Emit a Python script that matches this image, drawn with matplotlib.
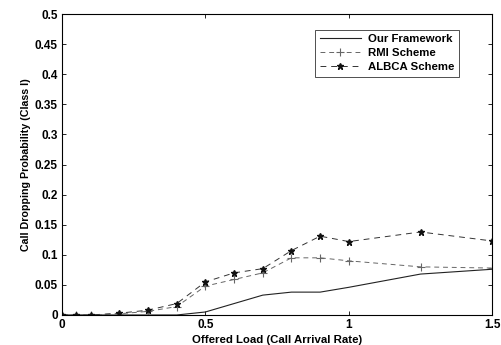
import numpy as np
import matplotlib.pyplot as plt

# offered load (call arrival rate)
load = [0, 0.05, 0.1, 0.2, 0.3, 0.4, 0.5, 0.6, 0.7, 0.8, 0.9, 1.0, 1.25, 1.5]

# call dropping probability, class I
framework = [0, 0, 0, 0, 0, 0.0, 0.005, 0.019, 0.033, 0.038, 0.038, 0.046, 0.068, 0.076]
rmi = [0, 0, 0, 0.002, 0.006, 0.014, 0.048, 0.059, 0.070, 0.095, 0.095, 0.090, 0.080, 0.078]
albca = [0, 0, 0, 0.003, 0.008, 0.019, 0.055, 0.070, 0.077, 0.107, 0.131, 0.122, 0.138, 0.123]

yticks = [0, 0.05, 0.1, 0.15, 0.2, 0.25, 0.3, 0.35, 0.4, 0.45, 0.5]
ytick_labels = ['0', '0.05', '0.1', '0.15', '0.2', '0.25', '0.3', '0.35', '0.4', '0.45', '0.5']
xticks = [0, 0.5, 1, 1.5]
xtick_labels = ['0', '0.5', '1', '1.5']

plt.rcParams['font.family'] = ['Liberation Sans', 'DejaVu Sans']
plt.rcParams['font.weight'] = 'bold'

fig = plt.figure(figsize=(5.02, 3.45), dpi=100)
ax = fig.add_axes([0.1235, 0.087, 0.857, 0.872])

ax.plot(load, framework, '-', color='#222222', lw=0.8, label='Our Framework')
ax.plot(load, rmi, '--', color='#666666', lw=0.7, marker='+', ms=6, mew=0.8,
        dashes=(5, 4), label='RMI Scheme')
ax.plot(load, albca, '--', color='#333333', lw=0.7, marker='*', ms=5,
        mfc='#111111', mec='#111111', dashes=(6, 5), label='ALBCA Scheme')

ax.set_xlim(0, 1.5)
ax.set_ylim(0, 0.5)
ax.set_xticks(xticks)
ax.set_xticklabels(xtick_labels)
ax.set_yticks(yticks)
ax.set_yticklabels(ytick_labels)
ax.tick_params(direction='in', length=3, width=0.6, labelsize=8.5,
               top=True, right=True, pad=3)
for s in ax.spines.values():
    s.set_linewidth(0.8)

ax.set_xlabel('Offered Load (Call Arrival Rate)', fontsize=8.2, fontweight='bold', labelpad=3)
ax.set_ylabel('Call Dropping Probability (Class I)', fontsize=7.7, fontweight='bold', labelpad=3)

leg = ax.legend(loc='upper right', bbox_to_anchor=(0.935, 0.967), fontsize=8.2,
                fancybox=False, edgecolor='#333333', framealpha=1,
                handlelength=3.6, borderpad=0.4, labelspacing=0.35, handletextpad=0.6)
leg.get_frame().set_linewidth(0.6)

fig.savefig('out.png', dpi=100)
